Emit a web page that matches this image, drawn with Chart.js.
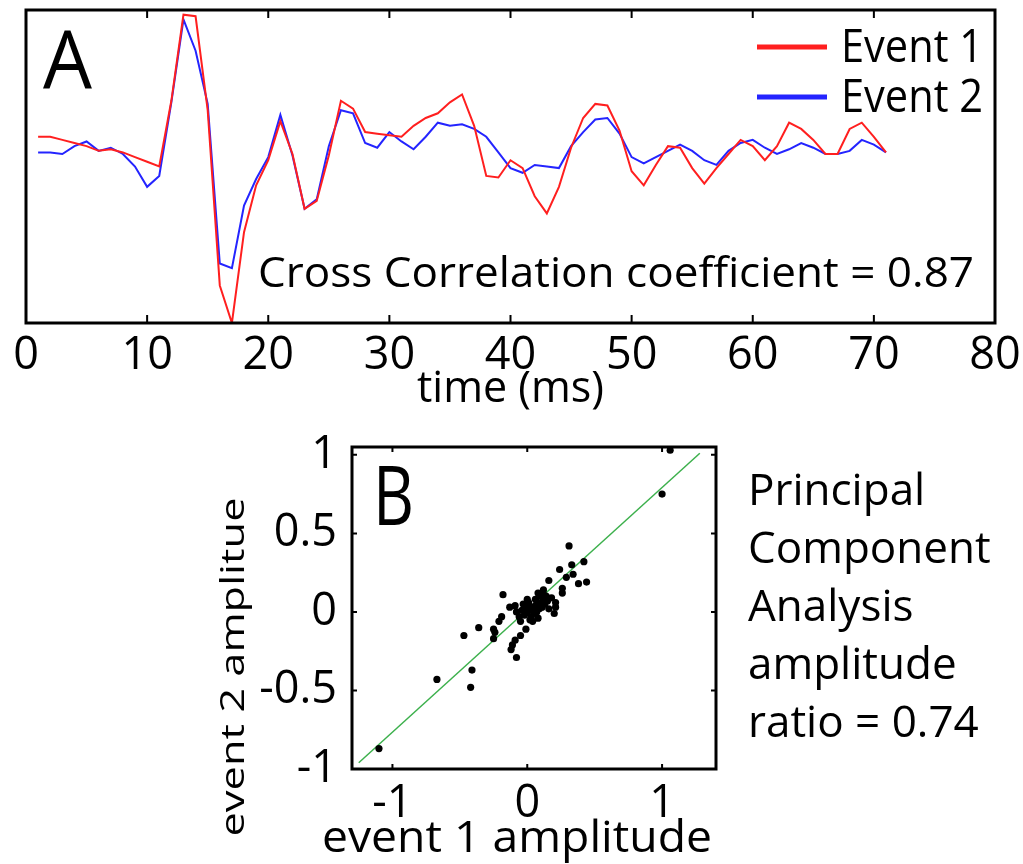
<!DOCTYPE html>
<html>
<head>
<meta charset="utf-8">
<script src="https://cdn.jsdelivr.net/npm/chart.js@4.4.1/dist/chart.umd.min.js"></script>
<style>
  body { margin: 0; background: #fff; }
  canvas { position: absolute; left: 0; }
  #waves { top: 0; }
  #pca { top: 430px; }
</style>
</head>
<body>
<canvas id="waves" width="1023" height="430"></canvas>
<canvas id="pca" width="1023" height="434"></canvas>
<script>
// panel A: waveforms (time in ms, normalised amplitude)
const times = [1, 2, 3, 4, 5, 6, 7, 8, 9, 10, 11, 12, 13, 14, 15, 16, 17, 18, 19, 20,
  21, 22, 23, 24, 25, 26, 27, 28, 29, 30, 31, 32, 33, 34, 35, 36, 37, 38, 39, 40,
  41, 42, 43, 44, 45, 46, 47, 48, 49, 50, 51, 52, 53, 54, 55, 56, 57, 58, 59, 60,
  61, 62, 63, 64, 65, 66, 67, 68, 69, 70, 71];

const event1 = [0.19, 0.19, 0.17, 0.15, 0.13, 0.10, 0.11, 0.09, 0.06, 0.03,
  0.00, 0.42, 0.97, 0.96, 0.36, -0.76, -1.00, -0.42, -0.12, 0.04,
  0.29, 0.08, -0.27, -0.22, 0.07, 0.42, 0.37, 0.22, 0.21, 0.20,
  0.19, 0.26, 0.31, 0.34, 0.41, 0.46, 0.26, -0.06, -0.07, 0.04,
  -0.01, -0.19, -0.30, -0.13, 0.12, 0.31, 0.40, 0.39, 0.23, -0.03,
  -0.12, 0.01, 0.13, 0.12, -0.01, -0.11, -0.01, 0.08, 0.17, 0.13,
  0.04, 0.13, 0.28, 0.24, 0.17, 0.08, 0.08, 0.24, 0.28, 0.19, 0.09];

const event2 = [0.09, 0.09, 0.08, 0.13, 0.16, 0.10, 0.12, 0.08, 0.00, -0.13,
  -0.06, 0.41, 0.94, 0.74, 0.40, -0.62, -0.65, -0.25, -0.08, 0.06,
  0.33, 0.07, -0.27, -0.21, 0.13, 0.36, 0.34, 0.15, 0.12, 0.22,
  0.16, 0.11, 0.19, 0.28, 0.26, 0.27, 0.24, 0.19, 0.09, -0.01,
  -0.04, 0.01, 0.00, -0.01, 0.13, 0.22, 0.30, 0.31, 0.21, 0.06,
  0.02, 0.06, 0.10, 0.14, 0.10, 0.04, 0.01, 0.10, 0.15, 0.17,
  0.12, 0.08, 0.11, 0.15, 0.12, 0.08, 0.08, 0.10, 0.17, 0.14, 0.09];

// panel B: principal component amplitudes
const pcaX = [1.06, 1.00, -1.10, -0.67, -0.41, -0.42, -0.47, -0.36, 0.31, 0.42,
  0.33, 0.24, 0.34, 0.29, 0.38, 0.44, 0.16, 0.26, 0.26, 0.12,
  0.21, 0.21, 0.20, -0.18, -0.13, -0.19, -0.21, -0.25, -0.24, -0.25,
  -0.01, -0.05, -0.09, -0.11, -0.12, -0.08,
  0.00, 0.02, 0.04, 0.06, 0.08, 0.10, 0.12, -0.02, -0.04, -0.06,
  0.03, 0.05, 0.07, 0.09, 0.11, 0.13, 0.15, 0.14, 0.01, -0.01,
  -0.03, -0.08, 0.06, 0.10, 0.02, 0.04, 0.08, -0.05, 0.16, 0.12,
  -0.09, 0.00, 0.08, 0.18];
const pcaY = [1.03, 0.75, -0.87, -0.43, -0.37, -0.48, -0.15, -0.10, 0.42, 0.32,
  0.30, 0.27, 0.24, 0.22, 0.18, 0.19, 0.20, 0.15, 0.12, 0.14,
  0.06, 0.03, -0.01, 0.11, 0.03, -0.03, -0.06, -0.11, -0.13, -0.17,
  -0.11, -0.15, -0.18, -0.21, -0.24, -0.29,
  0.00, 0.03, 0.01, 0.04, 0.06, 0.05, 0.08, -0.02, 0.01, -0.03,
  -0.03, -0.01, 0.00, 0.02, 0.03, 0.05, 0.07, 0.10, 0.06, 0.04,
  0.05, 0.00, 0.08, 0.10, -0.05, -0.06, -0.04, -0.06, 0.02, 0.11,
  0.04, 0.08, 0.12, 0.09];
const fitX = [-1.25, 1.28];
const fitY = [-0.96, 1.01];

const FONT = '"Open Sans", sans-serif';
const ratioLines = ['Principal', 'Component', 'Analysis', 'amplitude', 'ratio = 0.74'];

// text helper; width stretches/squeezes the string to the width seen in the figure
function txt(ctx, s, x, y, size, opts) {
  opts = opts || {};
  ctx.save();
  ctx.font = size + 'px ' + FONT;
  ctx.fillStyle = '#000';
  ctx.textBaseline = 'alphabetic';
  ctx.textAlign = opts.align || 'left';
  ctx.translate(x, y);
  if (opts.rotate) ctx.rotate(opts.rotate);
  if (opts.width) ctx.scale(opts.width / ctx.measureText(s).width, 1);
  ctx.fillText(s, 0, 0);
  ctx.restore();
}

// box round the plot area and inward tick marks
function frameAndTicks(chart, axes, len) {
  const ctx = chart.ctx;
  const a = chart.chartArea;
  ctx.save();
  ctx.strokeStyle = '#000';
  ctx.lineWidth = 2;
  axes.forEach(id => {
    const s = chart.scales[id];
    s.ticks.forEach(t => {
      const p = s.getPixelForValue(t.value);
      ctx.beginPath();
      if (s.isHorizontal()) {
        ctx.moveTo(p, a.bottom); ctx.lineTo(p, a.bottom - len);
        ctx.moveTo(p, a.top); ctx.lineTo(p, a.top + len);
      } else {
        ctx.moveTo(a.left, p); ctx.lineTo(a.left + len, p);
        ctx.moveTo(a.right, p); ctx.lineTo(a.right - len, p);
      }
      ctx.stroke();
    });
  });
  ctx.lineWidth = 3;
  ctx.strokeRect(a.left, a.top, a.right - a.left, a.bottom - a.top);
  ctx.restore();
}

const wavesDeco = {
  id: 'wavesDeco',
  afterDatasetsDraw(chart) {
    const ctx = chart.ctx;
    frameAndTicks(chart, ['x'], 8);
    txt(ctx, 'A', 43, 88, 80, { width: 49 });
    chart.data.datasets.forEach((ds, i) => {
      const y = 47 + i * 50;
      ctx.save();
      ctx.strokeStyle = ds.borderColor;
      ctx.lineWidth = 5;
      ctx.beginPath();
      ctx.moveTo(757, y); ctx.lineTo(827, y);
      ctx.stroke();
      ctx.restore();
      txt(ctx, ds.label, 841, y + 15, 46, { width: 142 });
    });
    txt(ctx, 'Cross Correlation coefficient = 0.87', 258, 287, 42, { width: 716 });
  }
};

new Chart(document.getElementById('waves'), {
  type: 'line',
  data: {
    datasets: [
      { label: 'Event 1', data: times.map((t, i) => ({ x: t, y: event1[i] })),
        borderColor: '#ff1f1f', borderWidth: 2, pointRadius: 0, tension: 0 },
      { label: 'Event 2', data: times.map((t, i) => ({ x: t, y: event2[i] })),
        borderColor: '#2424ff', borderWidth: 2, pointRadius: 0, tension: 0 }
    ]
  },
  options: {
    responsive: false,
    animation: false,
    layout: { padding: { left: 26, right: 28, top: 10, bottom: 0 } },
    plugins: { legend: { display: false }, tooltip: { enabled: false } },
    scales: {
      x: {
        type: 'linear', min: 0, max: 80,
        ticks: { stepSize: 10, maxRotation: 0, padding: 6, color: '#000', font: { size: 45, family: FONT } },
        grid: { display: false, drawTicks: false },
        border: { display: false },
        title: { display: true, text: 'time (ms)', color: '#000', font: { size: 43, family: FONT }, padding: { top: 0, bottom: 14 } },
        afterFit(s) { s.height = 107; s.paddingLeft = 0; s.paddingRight = 0; }
      },
      y: { display: false, min: -1, max: 1 }
    }
  },
  plugins: [wavesDeco]
});

const pcaDeco = {
  id: 'pcaDeco',
  afterDatasetsDraw(chart) {
    const ctx = chart.ctx;
    frameAndTicks(chart, ['x', 'y'], 5);
    txt(ctx, 'B', 373, 95, 82, { width: 41 });
    ratioLines.forEach((s, i) => txt(ctx, s, 748, 75 + i * 58, 44));
    txt(ctx, 'event 1 amplitude', 517, 422, 44, { align: 'center', width: 390 });
    txt(ctx, 'event 2 amplitue', 244, 237, 32, { align: 'center', rotate: -Math.PI / 2, width: 339 });
  }
};

const plainTick = v => String(v);

new Chart(document.getElementById('pca'), {
  type: 'scatter',
  data: {
    datasets: [
      { type: 'line', data: fitX.map((x, i) => ({ x: x, y: fitY[i] })),
        borderColor: '#3cb04c', borderWidth: 1.5, pointRadius: 0, order: 2 },
      { data: pcaX.map((x, i) => ({ x: x, y: pcaY[i] })),
        backgroundColor: '#000', borderWidth: 0, pointRadius: 3.6, order: 1 }
    ]
  },
  options: {
    responsive: false,
    animation: false,
    layout: { padding: { left: 0, right: 307, top: 17, bottom: 0 } },
    plugins: { legend: { display: false }, tooltip: { enabled: false } },
    scales: {
      x: {
        type: 'linear', min: -1.3, max: 1.4,
        ticks: { stepSize: 1, includeBounds: false, maxRotation: 0, padding: 8, color: '#000',
          font: { size: 45, family: FONT }, callback: plainTick },
        grid: { display: false, drawTicks: false },
        border: { display: false },
        afterFit(s) { s.height = 95; s.paddingLeft = 0; s.paddingRight = 0; }
      },
      y: {
        type: 'linear', min: -1, max: 1.05,
        ticks: { stepSize: 0.5, includeBounds: false, padding: 15, color: '#000',
          font: { size: 45, family: FONT }, callback: plainTick },
        grid: { display: false, drawTicks: false },
        border: { display: false },
        afterFit(s) { s.width = 352; s.paddingTop = 0; s.paddingBottom = 0; }
      }
    }
  },
  plugins: [pcaDeco]
});
</script>
</body>
</html>
